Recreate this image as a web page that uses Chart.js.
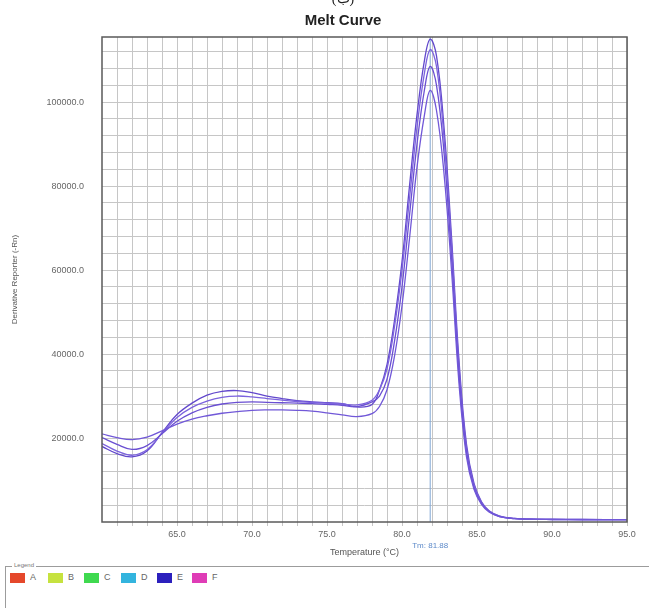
<!DOCTYPE html>
<html>
<head>
<meta charset="utf-8">
<script src="https://cdn.jsdelivr.net/npm/chart.js@4.4.0/dist/chart.umd.min.js"></script>
<style>
    body { margin: 0; background: #fff; width: 649px; height: 608px; overflow: hidden; font-family: "Liberation Sans", Arial, sans-serif; }
    #wrap { position: absolute; left: 0; top: 0; width: 649px; height: 562px; }
    #legendBox { position: absolute; left: 5px; top: 566px; width: 700px; height: 70px; border: 1px solid #9c9c9c; }
    #legendTitle { position: absolute; left: 12px; top: 562px; font-size: 6px; color: #777; background: #fff; padding: 0 2px; line-height: 7px; }
    .sw { position: absolute; top: 573px; width: 15px; height: 10px; }
    .lb { position: absolute; top: 572px; font-size: 9px; color: #666; line-height: 11px; }
</style>
</head>
<body>
<div id="wrap"><canvas id="graficaMelt"></canvas></div>
<div id="legendBox"></div>
<div id="legendTitle">Legend</div>
<div id="legendItems"></div>
<script>
    //-----------datos----------------------//
    const temps = [60, 61, 62, 63, 64, 65, 66, 67, 68, 69, 70, 71, 72, 73, 74, 75, 76, 77, 78,
        78.5, 79, 79.5, 80, 80.5, 81, 81.5, 81.88, 82.3, 82.8, 83.3, 83.8, 84.3, 84.8, 85.3, 85.8,
        86.5, 87.5, 88.5, 90, 92, 95];

    const curva1 = [21000, 20100, 19600, 20200, 21700, 23300, 24500, 25300, 25900, 26300, 26600, 26700, 26700, 26600, 26400, 26000, 25500, 25100, 25800,
        27500, 31500, 39500, 51500, 67500, 84500, 97000, 102800, 98000, 83000, 60000, 33000, 15500, 7800, 4200, 2400,
        1300, 800, 650, 600, 580, 550];
    const curva2 = [20100, 18500, 17300, 18200, 21000, 24000, 26000, 27300, 28100, 28500, 28600, 28500, 28400, 28300, 28200, 28000, 27800, 27500, 28600,
        30000, 34000, 43000, 56000, 73000, 90000, 103000, 108500, 104000, 88000, 63000, 35000, 16500, 8200, 4400, 2500,
        1300, 800, 650, 600, 580, 550];
    const curva3 = [18700, 16900, 15900, 17200, 21100, 24900, 27300, 28800, 29700, 30000, 29800, 29400, 29000, 28700, 28500, 28300, 28100, 27900, 29000,
        31500, 36500, 46500, 60000, 77000, 94000, 107000, 112500, 108500, 91500, 66000, 37000, 17500, 8800, 4600, 2600,
        1400, 850, 680, 620, 600, 560];
    const curva4 = [18000, 16300, 15500, 16900, 21300, 25600, 28300, 30200, 31100, 31300, 30800, 30000, 29400, 28900, 28600, 28400, 28200, 27400, 28000,
        31500, 37500, 48000, 62000, 80000, 97000, 110000, 115000, 111000, 94000, 68000, 38500, 18500, 9200, 4800, 2700,
        1400, 850, 680, 620, 600, 560];

    const tm = 81.88;
    const xLabels = [65, 70, 75, 80, 85, 90, 95];
    const yLabels = [20000, 40000, 60000, 80000, 100000];

    const pozos = ['A', 'B', 'C', 'D', 'E', 'F'];
    const coloresPozo = ['#e5482b', '#c6e23f', '#3fd94f', '#33b4de', '#2c20bd', '#df3cb6'];

    //-----------leyenda----------------------//
    let html = '';
    let leyX = [10, 48, 84, 121, 157, 192];
    pozos.forEach(function(p, i) {
        html += '<div class="sw" style="left:' + leyX[i] + 'px;background:' + coloresPozo[i] + '"></div>';
        html += '<div class="lb" style="left:' + (leyX[i] + 20) + 'px">' + p + '</div>';
    });
    document.getElementById('legendItems').innerHTML = html;

    //-----------grafica----------------------//
    const series = [curva1, curva2, curva3, curva4];
    const colores = ['#7158d8', '#6a4fd2', '#7c63de', '#6248cc'];

    const extras = {
        id: 'extras',
        beforeDraw(chart) {
            const ctx = chart.ctx;
            ctx.save();
            ctx.fillStyle = '#fff';
            ctx.fillRect(0, 0, chart.width, chart.height);
            ctx.restore();
        },
        beforeDatasetsDraw(chart) {
            const ctx = chart.ctx;
            const a = chart.chartArea;
            const px = chart.scales.x.getPixelForValue(tm);
            ctx.save();
            ctx.strokeStyle = '#7fa6d4';
            ctx.lineWidth = 1;
            ctx.beginPath();
            ctx.moveTo(px, a.top);
            ctx.lineTo(px, a.bottom);
            ctx.stroke();
            ctx.restore();
        },
        afterDraw(chart) {
            const ctx = chart.ctx;
            const a = chart.chartArea;
            const px = chart.scales.x.getPixelForValue(tm);
            ctx.save();
            ctx.strokeStyle = '#5a5a5a';
            ctx.lineWidth = 1.5;
            ctx.strokeRect(a.left, a.top, a.right - a.left, a.bottom - a.top);

            ctx.fillStyle = '#5d8ac9';
            ctx.font = '8px "Liberation Sans", Arial';
            ctx.textAlign = 'center';
            ctx.textBaseline = 'middle';
            ctx.fillText('Tm: ' + tm.toFixed(2), px, a.bottom + 24);

            ctx.fillStyle = '#222';
            ctx.font = 'bold 15px "Liberation Sans", Arial';
            ctx.fillText('Melt Curve', 343, 21);

            ctx.font = '14px "Liberation Serif", serif';
            ctx.textBaseline = 'alphabetic';
            ctx.fillText('(ب)', 343, 3);
            ctx.restore();
        }
    };

    const ctx = document.getElementById('graficaMelt').getContext('2d');
    const myChart = new Chart(ctx, {
        type: 'line',
        data: {
            datasets: series.map(function(s, i) {
                return {
                    label: 'curva' + (i + 1),
                    data: temps.map(function(t, j) { return { x: t, y: s[j] }; }),
                    borderColor: colores[i],
                    borderWidth: 1.3,
                    pointRadius: 0,
                    tension: 0.4,
                    fill: false
                };
            })
        },
        options: {
            responsive: true,
            maintainAspectRatio: false,
            animation: false,
            layout: { padding: { top: 37, right: 22, bottom: 0, left: 0 } },
            plugins: {
                legend: { display: false },
                tooltip: { enabled: false }
            },
            scales: {
                x: {
                    type: 'linear',
                    min: 60,
                    max: 95,
                    afterFit: function(scale) { scale.height = 40; },
                    afterBuildTicks: function(axis) {
                        let t = [];
                        for (let v = 61; v <= 95; v++) t.push({ value: v });
                        axis.ticks = t;
                    },
                    grid: { color: '#c6c6c6', lineWidth: 1, tickLength: 4, drawTicks: true },
                    border: { display: false },
                    ticks: {
                        autoSkip: false,
                        maxRotation: 0,
                        padding: 3,
                        color: '#666',
                        font: { size: 9, family: '"Liberation Sans", Arial' },
                        callback: function(v) { return xLabels.includes(v) ? v.toFixed(1) : ''; }
                    },
                    title: {
                        display: true,
                        text: 'Temperature (°C)',
                        color: '#555',
                        font: { size: 9, family: '"Liberation Sans", Arial' },
                        padding: { top: 0, bottom: 4 }
                    }
                },
                y: {
                    min: 0,
                    max: 115500,
                    afterFit: function(scale) { scale.width = 102; },
                    afterBuildTicks: function(axis) {
                        let t = [];
                        for (let v = 4000; v <= 112000; v += 4000) t.push({ value: v });
                        axis.ticks = t;
                    },
                    grid: { color: '#c6c6c6', lineWidth: 1, drawTicks: false },
                    border: { display: false },
                    ticks: {
                        autoSkip: false,
                        padding: 18,
                        color: '#666',
                        font: { size: 9, family: '"Liberation Sans", Arial' },
                        callback: function(v) { return yLabels.includes(v) ? v.toFixed(1) : ''; }
                    },
                    title: {
                        display: true,
                        text: 'Derivative Reporter (-Rn)',
                        color: '#555',
                        font: { size: 8, family: '"Liberation Sans", Arial' },
                        padding: { top: 10, bottom: 0 }
                    }
                }
            }
        },
        plugins: [extras]
    });
</script>
</body>
</html>
